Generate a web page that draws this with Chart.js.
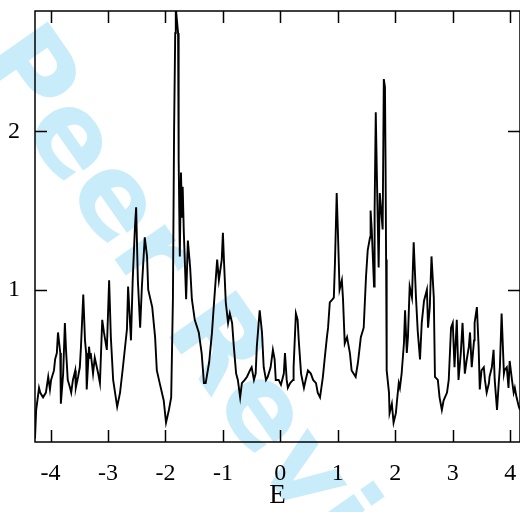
<!DOCTYPE html>
<html>
<head>
<meta charset="utf-8">
<script src="https://cdn.jsdelivr.net/npm/chart.js@4.4.3/dist/chart.umd.min.js"></script>
<style>
  html, body { margin: 0; padding: 0; background: #fff; }
</style>
</head>
<body>
<canvas id="myChart" width="520" height="512"></canvas>
<script>
// density of states
const energy = [
  -4.27, -4.25, -4.20, -4.18, -4.13, -4.08, -4.04, -4.01, -3.99, -3.94, -3.92, -3.89, -3.87, -3.83, -3.82,
  -3.78, -3.75, -3.73, -3.70, -3.66, -3.64, -3.61, -3.57, -3.56, -3.52, -3.49, -3.47, -3.43, -3.40, -3.38,
  -3.37, -3.33, -3.31, -3.30, -3.26, -3.23, -3.17, -3.14, -3.10, -3.07, -3.02, -2.98, -2.95, -2.91, -2.84,
  -2.79, -2.74, -2.67, -2.65, -2.60, -2.57, -2.53, -2.51, -2.48, -2.44, -2.41, -2.36, -2.32, -2.30, -2.23,
  -2.18, -2.15, -2.10, -2.03, -1.99, -1.94, -1.90, -1.87, -1.85, -1.83, -1.82, -1.78, -1.77, -1.75, -1.73,
  -1.71, -1.70, -1.68, -1.64, -1.61, -1.57, -1.54, -1.49, -1.42, -1.37, -1.33, -1.30, -1.24, -1.19, -1.16,
  -1.10, -1.07, -1.02, -1.00, -0.98, -0.95, -0.91, -0.88, -0.84, -0.81, -0.77, -0.74, -0.70, -0.67, -0.62,
  -0.58, -0.53, -0.50, -0.46, -0.43, -0.41, -0.36, -0.32, -0.29, -0.25, -0.22, -0.17, -0.13, -0.10, -0.08,
  -0.03, 0.01, 0.06, 0.08, 0.11, 0.13, 0.17, 0.22, 0.23, 0.27, 0.30, 0.32, 0.36, 0.41, 0.44,
  0.48, 0.53, 0.57, 0.62, 0.65, 0.69, 0.74, 0.77, 0.81, 0.83, 0.86, 0.91, 0.93, 0.95, 0.98,
  1.00, 1.03, 1.07, 1.09, 1.12, 1.16, 1.21, 1.24, 1.31, 1.35, 1.40, 1.45, 1.49, 1.52, 1.56,
  1.57, 1.59, 1.63, 1.64, 1.66, 1.68, 1.71, 1.73, 1.75, 1.78, 1.80, 1.82, 1.83, 1.84, 1.85,
  1.89, 1.90, 1.94, 1.97, 2.01, 2.03, 2.06, 2.08, 2.11, 2.15, 2.17, 2.20, 2.22, 2.25, 2.29,
  2.32, 2.36, 2.39, 2.43, 2.46, 2.50, 2.55, 2.57, 2.60, 2.63, 2.67, 2.69, 2.74, 2.77, 2.81,
  2.84, 2.90, 2.93, 2.97, 3.00, 3.03, 3.07, 3.10, 3.14, 3.17, 3.21, 3.24, 3.28, 3.30, 3.33,
  3.37, 3.38, 3.42, 3.45, 3.47, 3.50, 3.54, 3.56, 3.59, 3.63, 3.64, 3.68, 3.71, 3.73, 3.77,
  3.80, 3.82, 3.85, 3.89, 3.90, 3.94, 3.97, 3.99, 4.03, 4.06, 4.08, 4.11, 4.15, 4.17
]
const dos = [
  0.06, 0.24, 0.38, 0.35, 0.32, 0.35, 0.45, 0.37, 0.43, 0.49, 0.56, 0.60, 0.73, 0.60, 0.28,
  0.47, 0.79, 0.62, 0.43, 0.38, 0.35, 0.43, 0.49, 0.38, 0.45, 0.51, 0.64, 0.97, 0.68, 0.60,
  0.37, 0.64, 0.57, 0.60, 0.47, 0.57, 0.47, 0.41, 0.81, 0.73, 0.62, 1.06, 0.70, 0.43, 0.26,
  0.35, 0.51, 0.75, 1.02, 0.68, 1.06, 1.40, 1.52, 1.06, 0.76, 1.02, 1.33, 1.21, 1.00, 0.89,
  0.70, 0.49, 0.41, 0.30, 0.16, 0.24, 0.32, 0.94, 1.99, 2.62, 2.78, 2.62, 1.82, 1.21, 1.74,
  1.46, 1.65, 1.36, 0.94, 1.31, 1.14, 0.94, 0.81, 0.73, 0.60, 0.41, 0.41, 0.54, 0.73, 0.89,
  1.19, 1.06, 1.19, 1.36, 1.17, 0.92, 0.79, 0.85, 0.79, 0.64, 0.47, 0.43, 0.32, 0.41, 0.43,
  0.45, 0.49, 0.51, 0.43, 0.47, 0.64, 0.87, 0.73, 0.51, 0.43, 0.45, 0.51, 0.62, 0.56, 0.43,
  0.43, 0.40, 0.47, 0.60, 0.43, 0.38, 0.41, 0.43, 0.51, 0.85, 0.81, 0.68, 0.47, 0.38, 0.43,
  0.49, 0.47, 0.43, 0.41, 0.35, 0.32, 0.45, 0.56, 0.70, 0.76, 0.92, 0.94, 0.95, 1.17, 1.61,
  1.38, 1.00, 1.06, 0.94, 0.66, 0.70, 0.60, 0.49, 0.45, 0.54, 0.70, 0.76, 1.08, 1.25, 1.33,
  1.50, 1.38, 1.02, 1.50, 2.12, 1.71, 1.14, 1.61, 1.52, 1.38, 2.33, 2.28, 1.82, 1.19, 0.49,
  0.35, 0.22, 0.28, 0.16, 0.22, 0.30, 0.41, 0.38, 0.47, 0.66, 0.87, 0.60, 0.70, 1.02, 0.95,
  1.30, 0.95, 0.74, 0.56, 0.79, 0.93, 1.00, 0.76, 0.89, 1.21, 0.95, 0.45, 0.43, 0.32, 0.24,
  0.30, 0.35, 0.43, 0.76, 0.79, 0.51, 0.81, 0.43, 0.60, 0.79, 0.47, 0.55, 0.64, 0.73, 0.51,
  0.68, 0.79, 0.89, 0.64, 0.37, 0.49, 0.51, 0.43, 0.35, 0.41, 0.45, 0.51, 0.62, 0.43, 0.24,
  0.41, 0.51, 0.85, 0.47, 0.49, 0.51, 0.38, 0.55, 0.43, 0.35, 0.38, 0.32, 0.26, 0.24
]
const xTicks = [-4, -3, -2, -1, 0, 1, 2, 3, 4]
const yTicks = [1, 2]
const xTitle = 'E'
const watermark = 'Peer Review'

const serif = '"Liberation Serif", "DejaVu Serif", serif'

// light blue diagonal stamp behind the plot
const stampPlugin = {
  id: 'stamp',
  beforeDraw(chart) {
    const ctx = chart.ctx
    ctx.save()
    ctx.translate(-25, 60)
    ctx.rotate(55 * Math.PI / 180)
    ctx.font = 'bold 112px "DejaVu Sans"'
    ctx.fillStyle = '#c9ecfb'
    ctx.textBaseline = 'alphabetic'
    ctx.fillText(watermark, 0, 0)
    ctx.restore()
  }
}

// box round the plot with ticks pointing inward on all four sides
const framePlugin = {
  id: 'frame',
  afterDatasetsDraw(chart) {
    const {ctx, chartArea: a, scales} = chart
    const len = 12
    ctx.save()
    ctx.strokeStyle = '#000'
    ctx.lineWidth = 1.5
    ctx.strokeRect(a.left, a.top, a.right - a.left, a.bottom - a.top)
    ctx.beginPath()
    xTicks.forEach(v => {
      const px = Math.round(scales.x.getPixelForValue(v)) + 0.5
      ctx.moveTo(px, a.bottom); ctx.lineTo(px, a.bottom - len)
      ctx.moveTo(px, a.top); ctx.lineTo(px, a.top + len)
    })
    yTicks.forEach(v => {
      const py = Math.round(scales.y.getPixelForValue(v)) + 0.5
      ctx.moveTo(a.left, py); ctx.lineTo(a.left + len, py)
      ctx.moveTo(a.right, py); ctx.lineTo(a.right - len, py)
    })
    ctx.stroke()
    ctx.restore()
  }
}

// drop the extra room chart.js keeps for the end labels
const noEdgePadding = s => {
  s.paddingTop = 0; s.paddingBottom = 0; s.paddingLeft = 0; s.paddingRight = 0
}

const points = energy.map((e, i) => ({x: e, y: dos[i]}))

new Chart(document.getElementById('myChart'), {
  type: 'line',
  data: {
    datasets: [{
      data: points,
      borderColor: '#000',
      borderWidth: 1.9,
      pointRadius: 0,
      tension: 0,
      fill: false
    }]
  },
  options: {
    responsive: false,
    animation: false,
    devicePixelRatio: 1,
    layout: {padding: {top: 11, right: 0, left: 0, bottom: 0}},
    plugins: {legend: {display: false}, tooltip: {enabled: false}},
    scales: {
      x: {
        type: 'linear',
        min: -4.27,
        max: 4.17,
        afterBuildTicks: s => { s.ticks = xTicks.map(v => ({value: v})) },
        afterFit: s => { s.height = 70; noEdgePadding(s) },
        grid: {display: false, drawTicks: false},
        border: {display: false},
        ticks: {
          color: '#000',
          padding: 17,
          font: {family: serif, size: 24},
          maxRotation: 0
        },
        title: {
          display: true,
          text: xTitle,
          color: '#000',
          font: {family: serif, size: 27},
          padding: {top: 8, bottom: 0}
        }
      },
      y: {
        min: 0.038,
        max: 2.76,
        afterBuildTicks: s => { s.ticks = yTicks.map(v => ({value: v})) },
        afterFit: s => { s.width = 35; noEdgePadding(s) },
        grid: {display: false, drawTicks: false},
        border: {display: false},
        ticks: {
          color: '#000',
          padding: 15,
          font: {family: serif, size: 24}
        }
      }
    }
  },
  plugins: [stampPlugin, framePlugin]
})
</script>
</body>
</html>
